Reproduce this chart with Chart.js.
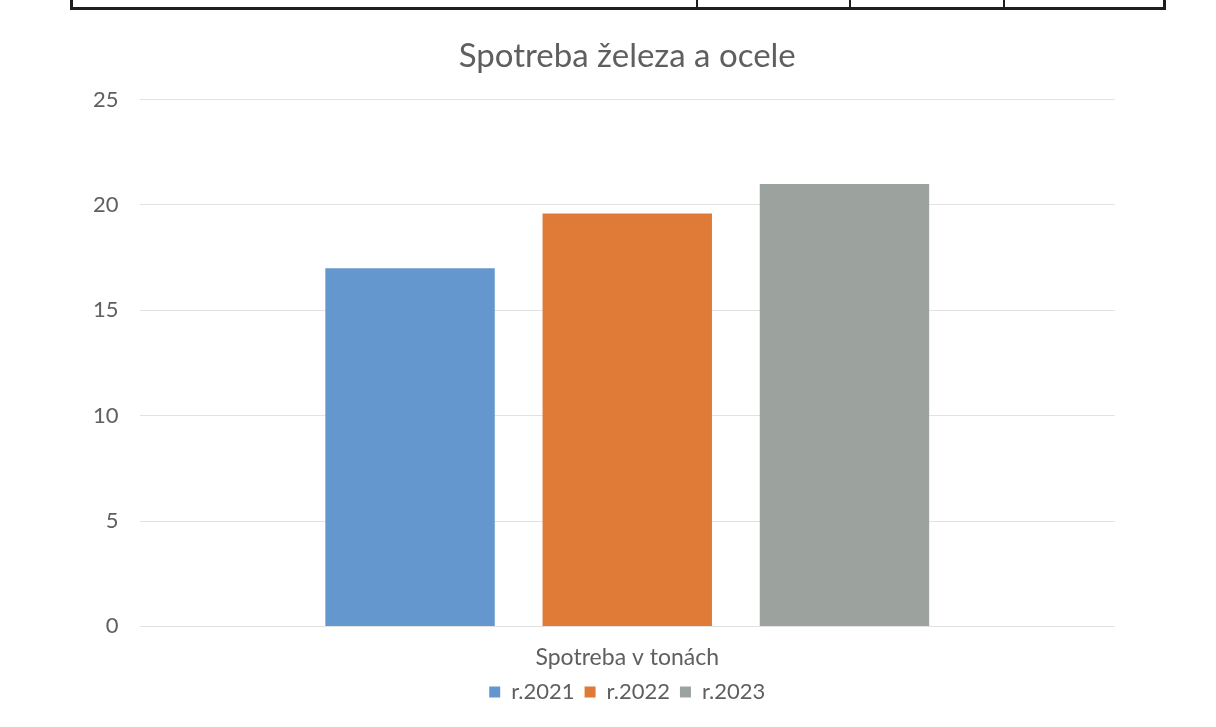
<!DOCTYPE html>
<html>
<head>
<meta charset="utf-8">
<script src="https://cdn.jsdelivr.net/npm/chart.js@4"></script>
<style>
  html, body { margin: 0; padding: 0; background: #fff; }
  #wrap { position: relative; width: 1216px; height: 727px; overflow: hidden; }
  #myChart { position: absolute; left: 0; top: 0; }
  /* bottom edge of the table above the chart */
  .table-edge { position: absolute; left: 70px; top: -20px; width: 1090px; height: 27px;
    border: 3px solid #1e1e1e; border-top: none; }
  .table-col { position: absolute; top: -20px; width: 2px; height: 28px; background: #1e1e1e; }
</style>
</head>
<body>
<div id="wrap">
  <div class="table-edge"></div>
  <div class="table-col" style="left:696px"></div>
  <div class="table-col" style="left:849px"></div>
  <div class="table-col" style="left:1003px"></div>
  <canvas id="myChart" width="1216" height="727"></canvas>
</div>
<script>
// consumption per year, tonnes
const categories = ['Spotreba v tonách'];
const years = ['r.2021', 'r.2022', 'r.2023'];
const consumption = [17, 19.6, 21];
const barColors = ['#6497cd', '#e07b37', '#9ca39f'];

const yTicks = [0, 5, 10, 15, 20, 25];

const textGray = '#5f5f5f';

const datasets = years.map((year, i) => ({
  label: year,
  data: [consumption[i]],
  backgroundColor: barColors[i],
  borderWidth: 0,
  categoryPercentage: 0.668,
  barPercentage: 0.78
}));

const config = {
  type: 'bar',
  data: { labels: categories, datasets: datasets },
  options: {
    responsive: false,
    animation: false,
    layout: { padding: { top: 37, left: 72, right: 101, bottom: 14 } },
    plugins: {
      title: {
        display: true,
        fullSize: false,
        text: 'Spotreba železa a ocele',
        color: textGray,
        font: { family: 'Lato', size: 33, weight: 'normal' },
        padding: { top: 0, bottom: 23 }
      },
      legend: {
        position: 'bottom',
        fullSize: false,
        labels: {
          color: textGray,
          font: { family: 'Lato', size: 22 },
          boxWidth: 11,
          boxHeight: 11,
          padding: 10
        }
      },
      tooltip: { enabled: false }
    },
    scales: {
      x: {
        // tick marks are hidden, their length only spaces the category label
        grid: { display: false, drawTicks: true, tickLength: 17 },
        border: { display: false },
        ticks: {
          color: textGray,
          font: { family: 'Lato', size: 23 },
          padding: 0
        }
      },
      y: {
        min: 0,
        max: 25,
        afterBuildTicks: axis => { axis.ticks = yTicks.map(v => ({ value: v })); },
        grid: { color: '#e2e2e2', drawTicks: false },
        border: { display: false },
        ticks: {
          color: textGray,
          font: { family: 'Lato', size: 22 },
          padding: 21
        }
      }
    }
  }
};

new Chart(document.getElementById('myChart'), config);
</script>
</body>
</html>
